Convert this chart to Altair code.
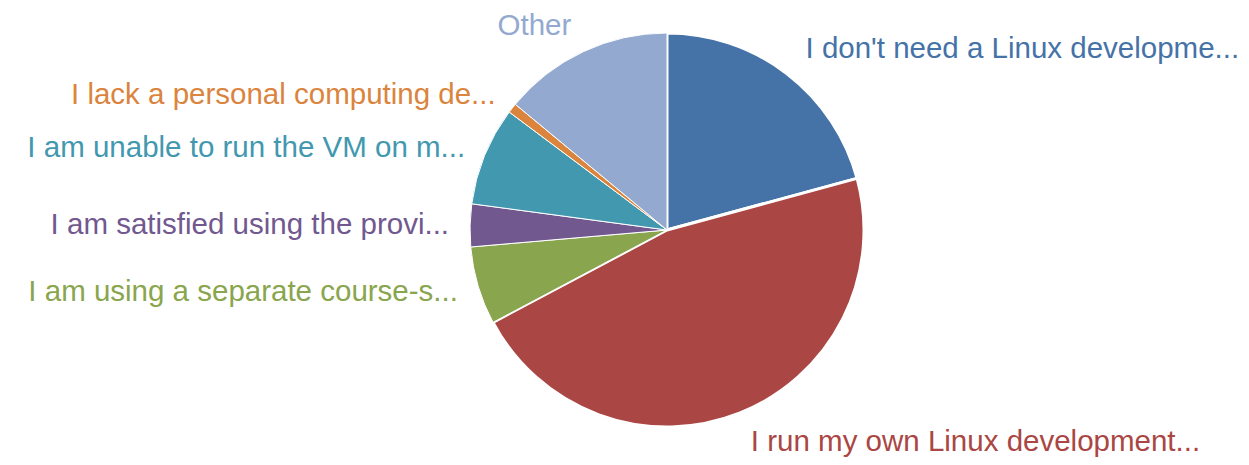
import altair as alt
import pandas as pd

labels = [
    "I don't need a Linux developme...",
    "I run my own Linux development...",
    "I am using a separate course-s...",
    "I am satisfied using the provi...",
    "I am unable to run the VM on m...",
    "I lack a personal computing de...",
    "Other",
]
values = [20.8, 46.5, 6.4, 3.5, 8.1, 0.8, 14.0]
colors = ["#4572A7", "#AA4643", "#89A54E", "#71588F", "#4198AF", "#DB843D", "#93A9CF"]

df = pd.DataFrame({
    "label": labels,
    "value": values,
    "order": list(range(len(labels))),
})

CX, CY = 659, 222

base = alt.Chart(df).transform_window(
    cum="sum(value)", sort=[alt.SortField("order")]
).transform_joinaggregate(
    total="sum(value)"
).transform_calculate(
    mid="(datum.cum - datum.value / 2) / datum.total"
).encode(
    theta=alt.Theta("value:Q", stack=True),
    order=alt.Order("order:Q"),
    color=alt.Color("label:N", scale=alt.Scale(domain=labels, range=colors), legend=None),
    x=alt.value(CX),
    y=alt.value(CY),
)

pie = base.mark_arc(outerRadius=197, stroke="white").encode(
    strokeWidth=alt.condition(alt.datum.value > 20, alt.value(3), alt.value(1))
)

FONT = "Liberation Sans"
FS = 29.5

txt_right = base.transform_calculate(
    t="datum.mid < 0.5 ? datum.label : ''"
).mark_text(radius=228, align="left", baseline="middle", font=FONT, fontSize=FS).encode(
    text="t:N"
)
txt_left = base.transform_calculate(
    t="datum.mid >= 0.5 && datum.mid < 0.9 ? datum.label : ''"
).mark_text(radius=218, align="right", baseline="middle", font=FONT, fontSize=FS).encode(
    text="t:N"
)
txt_top = base.transform_calculate(
    t="datum.mid >= 0.9 ? datum.label : ''"
).mark_text(radius=225, align="right", baseline="middle", font=FONT, fontSize=FS).encode(
    text="t:N"
)

chart = alt.layer(pie, txt_right, txt_left, txt_top).properties(
    width=1233, height=449, autosize=alt.AutoSizeParams(type="none"), padding=0
).configure_view(stroke=None)

chart.save("out.html", embed_options={"renderer": "svg", "actions": False})
